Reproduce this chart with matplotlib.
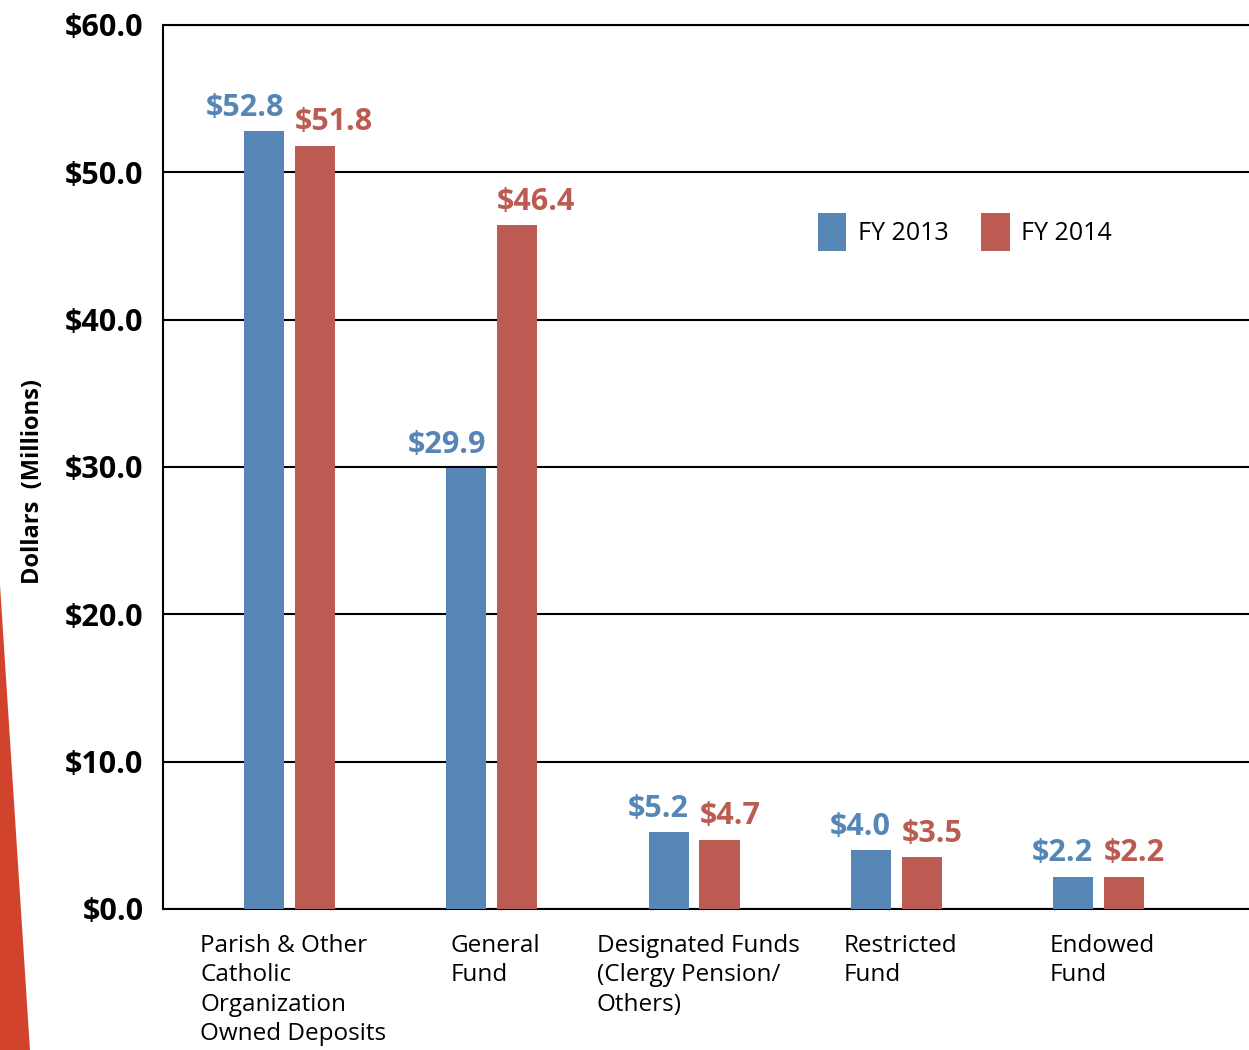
import numpy as np
import matplotlib
matplotlib.use("Agg")
import matplotlib.pyplot as plt
from matplotlib.patches import Polygon

plt.rcParams['font.family'] = ['Open Sans', 'DejaVu Sans']

# Datos del gráfico
categorias = ["Parish & Other\nCatholic\nOrganization\nOwned Deposits",
              "General\nFund",
              "Designated Funds\n(Clergy Pension/\nOthers)",
              "Restricted\nFund",
              "Endowed\nFund"]
fy2013 = [52.8, 29.9, 5.2, 4.0, 2.2]
fy2014 = [51.8, 46.4, 4.7, 3.5, 2.2]
y_ticks = [0, 10, 20, 30, 40, 50, 60]

azul = '#5586B6'
rojo = '#BB5B52'

fig = plt.figure(figsize=(12.49, 10.5), dpi=100)
ax = fig.add_axes([163 / 1249, 141 / 1050, 1086 / 1249, 884 / 1050])

x = np.arange(len(categorias))
ancho = 0.198
desp = 0.126

b1 = ax.bar(x - desp, fy2013, ancho, color=azul, label='FY 2013', zorder=3)
b2 = ax.bar(x + desp, fy2014, ancho, color=rojo, label='FY 2014', zorder=3)

# Etiquetas de valores
for r, v in zip(b1, fy2013):
    ax.annotate(f"${v:.1f}", (r.get_x() + r.get_width(), v), xytext=(0, 6),
                textcoords='offset points', ha='right', va='bottom',
                color=azul, fontsize=22, fontweight='bold')
for r, v in zip(b2, fy2014):
    ax.annotate(f"${v:.1f}", (r.get_x(), v), xytext=(0, 6),
                textcoords='offset points', ha='left', va='bottom',
                color=rojo, fontsize=22, fontweight='bold')

ax.set_xlim(-0.6255, 4.744)
ax.set_ylim(0, 60)
ax.set_yticks(y_ticks)
ax.set_yticklabels([f"${t:.1f}" for t in y_ticks], fontsize=22, fontweight='bold')
ax.tick_params(axis='y', length=0, pad=14)
ax.set_xticks([])
ax.grid(axis='y', color='black', linewidth=1.5, zorder=1)
ax.set_axisbelow(True)
for s in ['left', 'bottom', 'top']:
    ax.spines[s].set_linewidth(1.5)
ax.spines['right'].set_visible(False)

# Etiquetas de categorías
for xi, cat in zip(x, categorias):
    ax.text(xi + 0.02, -1.7, cat, ha='center', va='top', multialignment='left',
            fontsize=17.5, linespacing=1.3)

ax.set_ylabel("Dollars  (Millions)", fontsize=17, fontweight='bold')
ax.yaxis.set_label_coords(-0.1087, 0.484)

ax.legend(loc='center left', bbox_to_anchor=(0.582, 0.766), ncol=2, frameon=False,
          fontsize=18, handlelength=1.15, handleheight=2.0, handletextpad=0.45,
          columnspacing=1.3)

# Franja decorativa roja
fig.add_artist(Polygon([(0, 0.443), (0.024, 0), (0, 0)], closed=True,
                       transform=fig.transFigure, color='#D1432C', lw=0))

fig.savefig('out.png', dpi=100)
